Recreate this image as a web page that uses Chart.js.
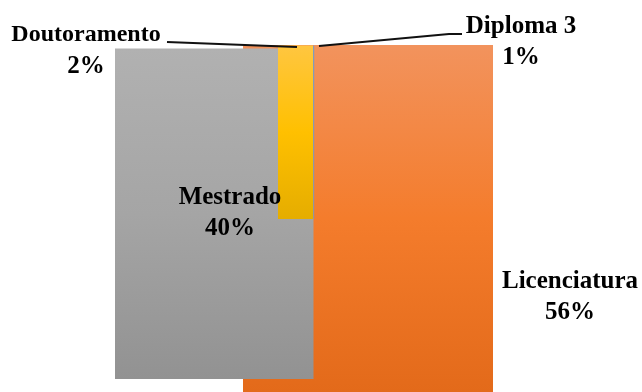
<!DOCTYPE html>
<html lang="pt">
<head>
    <meta charset="UTF-8">
    <title>Habilitações</title>
    <script src="https://cdn.jsdelivr.net/npm/chart.js"></script>
    <style>
        body {
            margin: 0;
            background-color: #ffffff;
        }
        canvas {
            display: block;
        }
    </style>
</head>
<body>
    <canvas id="degreeChart" width="642" height="392"></canvas>

    <script>
        // categories and their shares
        const categories = ['Licenciatura', 'Mestrado', 'Doutoramento', 'Diploma 3'];
        const shares = [56, 40, 2, 1];

        // block extents in frame units (x: left/right, y: top/bottom)
        const spanX = [[243, 493], [115, 313.7], [278, 313], [313, 314.5]];
        const spanY = [[45, 392], [48.5, 379], [45.5, 219], [45.5, 219]];

        // label anchors and leader lines, same frame units
        const labelAt = [[570, 282], [230, 198], [86, 35], [521, 27]];
        const lineGap = [31, 31, 32, 31];
        const leaders = [null, null, [[167, 42], [297, 47]], [[462, 34], [449, 34], [319, 46]]];

        const gradientStops = [
            ['#f2935d', '#f47c2c', '#e36a1a'],  // orange
            ['#b1b1b1', '#a5a5a5', '#929292'],  // grey
            ['#ffc640', '#ffc000', '#e5ad00'],  // yellow
            ['rgba(91,155,213,0.7)', 'rgba(91,155,213,0.6)', 'rgba(91,155,213,0.5)']  // blue
        ];

        function blockFill(i) {
            return function(context) {
                const chart = context.chart;
                const y = chart.scales.y;
                if (!chart.chartArea || !y) {
                    return gradientStops[i][1];
                }
                const g = chart.ctx.createLinearGradient(0, y.getPixelForValue(spanY[i][0]), 0, y.getPixelForValue(spanY[i][1]));
                g.addColorStop(0, gradientStops[i][0]);
                g.addColorStop(0.5, gradientStops[i][1]);
                g.addColorStop(1, gradientStops[i][2]);
                return g;
            };
        }

        // draw order: lower order ends on top
        const drawOrder = [3, 2, 1, 0];

        const datasets = categories.map(function(name, i) {
            return {
                label: name,
                data: [
                    { x: spanX[i][0], y: spanY[i][0] },
                    { x: spanX[i][1], y: spanY[i][0] }
                ],
                fill: { value: spanY[i][1] },
                backgroundColor: blockFill(i),
                borderWidth: 0,
                pointRadius: 0,
                tension: 0,
                order: drawOrder[i]
            };
        });

        const labelPlugin = {
            id: 'blockLabels',
            afterDatasetsDraw(chart) {
                const ctx = chart.ctx;
                const xs = chart.scales.x;
                const ys = chart.scales.y;
                ctx.save();

                // leader lines
                ctx.strokeStyle = '#111111';
                ctx.lineWidth = 2;
                leaders.forEach(function(pts) {
                    if (!pts) return;
                    ctx.beginPath();
                    pts.forEach(function(p, k) {
                        const px = xs.getPixelForValue(p[0]);
                        const py = ys.getPixelForValue(p[1]);
                        if (k === 0) ctx.moveTo(px, py); else ctx.lineTo(px, py);
                    });
                    ctx.stroke();
                });

                // name + percentage
                ctx.fillStyle = '#000000';
                ctx.textAlign = 'center';
                ctx.textBaseline = 'middle';
                categories.forEach(function(name, i) {
                    const px = xs.getPixelForValue(labelAt[i][0]);
                    const py = ys.getPixelForValue(labelAt[i][1]);
                    ctx.font = (i === 2 ? 'bold 24px' : 'bold 25px') + ' "Liberation Serif", "Times New Roman", serif';
                    ctx.fillText(name, px, py);
                    ctx.font = 'bold 25px "Liberation Serif", "Times New Roman", serif';
                    ctx.fillText(shares[i] + '%', px, py + lineGap[i]);
                });
                ctx.restore();
            }
        };

        const degreeCtx = document.getElementById('degreeChart').getContext('2d');

        const degreeChart = new Chart(degreeCtx, {
            type: 'line',
            data: { datasets: datasets },
            options: {
                responsive: false,
                animation: false,
                layout: { padding: 0 },
                plugins: {
                    legend: { display: false },
                    tooltip: { enabled: false }
                },
                scales: {
                    x: { type: 'linear', min: 0, max: 642, display: false },
                    y: { type: 'linear', min: 0, max: 392, reverse: true, display: false }
                }
            },
            plugins: [labelPlugin]
        });
    </script>
</body>
</html>
